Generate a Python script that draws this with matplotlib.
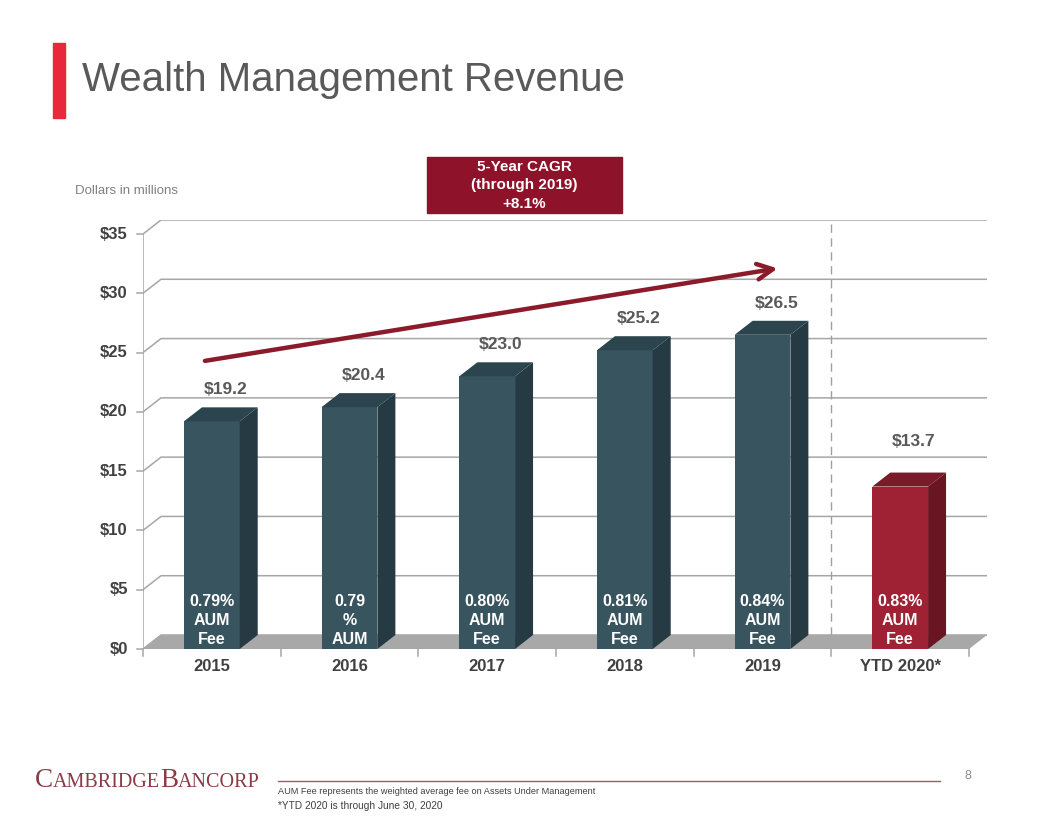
import matplotlib
matplotlib.use("Agg")
import matplotlib.pyplot as plt
from matplotlib.patches import Polygon, Rectangle

# data
years = ["2015", "2016", "2017", "2018", "2019", "YTD 2020*"]
revenue = [19.2, 20.4, 23.0, 25.2, 26.5, 13.7]
fee_labels = ["0.79%\nAUM\nFee", "0.79\n%\nAUM\nFee", "0.80%\nAUM\nFee",
              "0.81%\nAUM\nFee", "0.84%\nAUM\nFee", "0.83%\nAUM\nFee"]
yticks = [0, 5, 10, 15, 20, 25, 30, 35]
ytick_labels = ["$" + str(v) for v in yticks]
cagr_start = (-0.05, 24.3)
cagr_end = (4.11, 32.1)

W, H = 1056, 816
DX = 18 / 137.67      # depth offset in x units
DY = 14 / 11.857      # depth offset in y units
BW = 0.405

blue = ("#37545F", "#253A42", "#2C444D")
red = ("#9E2233", "#6A1522", "#7B1A28")

plt.rcParams['font.family'] = ['Liberation Sans', 'DejaVu Sans']
fig = plt.figure(figsize=(W / 100, H / 100), dpi=100)

def fx(px):
    return px / W

def fy(py):
    return 1 - py / H

left, right, bottom, top = 143, 143 + (6 + DX) * 137.67, 649, 649 - (35 + DY) * 11.857
ax = fig.add_axes([fx(left), fy(bottom), fx(right - left), (bottom - top) / H])
ax.set_xlim(-0.5, 5.5 + DX)
ax.set_ylim(0, 35 + DY)
ax.axis("off")

grid_c = "#A6A6A6"
# back wall gridlines with the left wall diagonal
for v, lab in zip(yticks, ytick_labels):
    ax.plot([-0.5, -0.5 + DX, 5.5 + DX], [v, v + DY, v + DY], color=grid_c, lw=1.1, zorder=1)
    ax.plot([-0.5 - 0.04, -0.5], [v, v], color=grid_c, lw=1.1, clip_on=False, zorder=1)
    ax.text(-0.5 - 0.11, v, lab, ha="right", va="center", fontsize=12,
            fontweight="bold", color="#404040")
ax.plot([-0.5, -0.5], [0, 35], color=grid_c, lw=1.1, zorder=1)

# floor
ax.add_patch(Polygon([(-0.5, 0), (5.5, 0), (5.5 + DX, DY), (-0.5 + DX, DY)],
                     closed=True, facecolor="#A8A8A8", edgecolor="none", zorder=2))
ax.plot([-0.5, 5.5], [0, 0], color=grid_c, lw=1.1, zorder=2)
for b in range(7):
    ax.plot([b - 0.5, b - 0.5], [0, -0.6], color=grid_c, lw=1.1, clip_on=False)

# separator before YTD
ax.plot([4.5, 4.5], [0, 35 + DY], color="#A0A0A0", lw=1, ls=(0, (6, 4)), zorder=1.5)

# bars
xs = list(range(len(years)))
cols = [blue] * 5 + [red]
ax.bar(xs, revenue, width=BW, color=[c[0] for c in cols], zorder=3)
for x, v, c in zip(xs, revenue, cols):
    r = x + BW / 2
    l = x - BW / 2
    ax.add_patch(Polygon([(r, 0), (r + DX, DY), (r + DX, v + DY), (r, v)],
                         closed=True, facecolor=c[1], edgecolor="none", zorder=3))
    ax.add_patch(Polygon([(l, v), (r, v), (r + DX, v + DY), (l + DX, v + DY)],
                         closed=True, facecolor=c[2], edgecolor="none", zorder=3))

label_pad = [1.5, 1.5, 1.5, 1.5, 1.5, 2.6]
for x, v, p in zip(xs, revenue, label_pad):
    ax.text(x + 0.1, v + DY + p, "$%.1f" % v, ha="center", va="center",
            fontsize=12.5, fontweight="bold", color="#595959")

for x, t in zip(xs, fee_labels):
    ax.text(x, 4.65, t, ha="center", va="top", fontsize=11.5, fontweight="bold",
            color="white", linespacing=1.32, zorder=4, clip_on=True)

for x, t in zip(xs, years):
    ax.text(x, -1.5, t, ha="center", va="center", fontsize=12, fontweight="bold",
            color="#404040")

ax.annotate("", xy=cagr_end, xytext=cagr_start,
            arrowprops=dict(arrowstyle="->", lw=3.2, color="#8B1A2B",
                            mutation_scale=28, shrinkA=0, shrinkB=0), zorder=5)

# title and accents
fig.patches.append(Rectangle((fx(53), fy(118)), fx(12), (118 - 43) / H,
                             transform=fig.transFigure, color="#E8293B"))
fig.text(fx(82), fy(80), "Wealth Management Revenue", fontsize=29, color="#595959",
         va="center", ha="left")
fig.text(fx(75), fy(191), "Dollars in millions", fontsize=9.5, color="#808080",
         va="center")

fig.patches.append(Rectangle((fx(427), fy(213)), fx(195), 56 / H,
                             transform=fig.transFigure, color="#8E1229"))
fig.text(fx(524), fy(167), "5-Year CAGR", fontsize=11, color="white", fontweight="bold",
         ha="center", va="center")
fig.text(fx(524), fy(185), "(through 2019)", fontsize=11, color="white", fontweight="bold",
         ha="center", va="center")
fig.text(fx(524), fy(204), "+8.1%", fontsize=11, color="white", fontweight="bold",
         ha="center", va="center")

# footer
logo_c = "#8B3A46"
serif = ["Liberation Serif", "DejaVu Serif"]
renderer = fig.canvas.get_renderer()
xpos = 35
for piece, size in [("C", 19.5), ("AMBRIDGE", 14.5), ("B", 19.5), ("ANCORP", 14.5)]:
    t = fig.text(fx(xpos), fy(787), piece, fontsize=size, color=logo_c, family=serif,
                 va="baseline", ha="left")
    xpos += t.get_window_extent(renderer).width
fig.add_artist(plt.Line2D([fx(278), fx(940)], [fy(781), fy(781)], color="#A45A66", lw=1))
fig.text(fx(968), fy(776), "8", fontsize=9, color="#8C8C8C", ha="center", va="center")
fig.text(fx(278), fy(791), "AUM Fee represents the weighted average fee on Assets Under Management",
         fontsize=6.6, color="#404040", va="center")
fig.text(fx(278), fy(806), "*YTD 2020 is through June 30, 2020", fontsize=7.3,
         color="#404040", va="center")

fig.savefig("out.png", dpi=100)
